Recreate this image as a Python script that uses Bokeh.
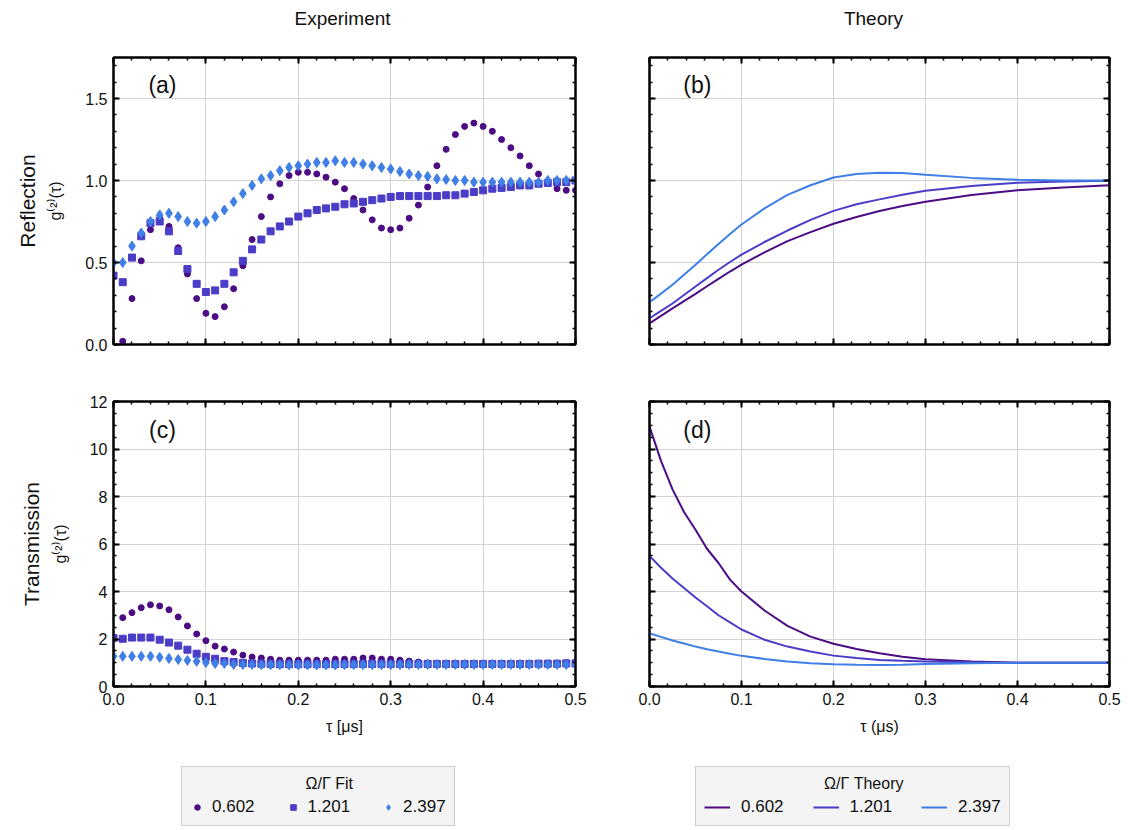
import numpy as np
from bokeh.plotting import figure
from bokeh.layouts import column, row
from bokeh.models import (LinearAxis, SingleIntervalTicker, NumeralTickFormatter,
                          Label, Legend, LegendItem, Range1d, Title,
                          CustomLabelingPolicy)
from bokeh.embed import file_html
from bokeh.resources import INLINE

nan = float("nan")

# ---------------- data ----------------
tau_exp = [0.00, 0.01, 0.02, 0.03, 0.04, 0.05, 0.06, 0.07, 0.08, 0.09,
           0.10, 0.11, 0.12, 0.13, 0.14, 0.15, 0.16, 0.17, 0.18, 0.19,
           0.20, 0.21, 0.22, 0.23, 0.24, 0.25, 0.26, 0.27, 0.28, 0.29,
           0.30, 0.31, 0.32, 0.33, 0.34, 0.35, 0.36, 0.37, 0.38, 0.39,
           0.40, 0.41, 0.42, 0.43, 0.44, 0.45, 0.46, 0.47, 0.48, 0.49, 0.50]

refl_0602 = [nan, 0.02, 0.28, 0.51, 0.70, 0.77, 0.72, 0.59, 0.43, 0.28,
             0.19, 0.17, 0.23, 0.34, 0.48, 0.64, 0.78, 0.90, 0.98, 1.03,
             1.05, 1.05, 1.04, 1.02, 0.99, 0.95, 0.89, 0.82, 0.76, 0.71,
             0.70, 0.71, 0.77, 0.85, 0.96, 1.09, 1.19, 1.28, 1.33, 1.35,
             1.33, 1.30, 1.25, 1.20, 1.15, 1.09, 1.04, 0.99, 0.95, 0.94, 0.94]
refl_1201 = [0.42, 0.38, 0.53, 0.66, 0.74, 0.75, 0.69, 0.57, 0.46, 0.37,
             0.32, 0.33, 0.37, 0.44, 0.51, 0.58, 0.64, 0.69, 0.72, 0.75,
             0.78, 0.80, 0.82, 0.83, 0.84, 0.855, 0.86, 0.87, 0.88, 0.89,
             0.90, 0.905, 0.905, 0.905, 0.905, 0.905, 0.91, 0.91, 0.92, 0.93,
             0.94, 0.95, 0.955, 0.96, 0.97, 0.97, 0.98, 0.985, 0.99, 0.99, 1.00]
refl_2397 = [0.50, 0.50, 0.60, 0.68, 0.75, 0.79, 0.80, 0.78, 0.75, 0.74,
             0.75, 0.78, 0.82, 0.87, 0.92, 0.97, 1.01, 1.03, 1.06, 1.08,
             1.09, 1.10, 1.11, 1.11, 1.12, 1.11, 1.11, 1.10, 1.09, 1.08,
             1.07, 1.055, 1.04, 1.03, 1.025, 1.01, 1.006, 1.00, 1.00, 0.99,
             0.99, 0.99, 0.99, 0.99, 0.99, 0.99, 0.99, 1.00, 1.00, 1.00, 1.00]

trans_0602 = [nan, 2.90, 3.11, 3.32, 3.44, 3.39, 3.23, 2.93, 2.55, 2.21,
              1.93, 1.70, 1.58, 1.45, 1.32, 1.24, 1.20, 1.15, 1.11, 1.11,
              1.11, 1.11, 1.11, 1.11, 1.15, 1.15, 1.15, 1.20, 1.20, 1.15,
              1.15, 1.11, 1.07, 1.03, 0.99, 0.97, 0.96, 0.95, 0.95, 0.95,
              0.95, 0.95, 0.95, 0.95, 0.95, 0.96, 0.97, 0.98, 0.99, 1.01, 1.03]
trans_1201 = [2.04, 2.01, 2.06, 2.06, 2.06, 1.97, 1.85, 1.72, 1.55, 1.38,
              1.25, 1.17, 1.07, 1.03, 0.99, 0.97, 0.96, 0.95, 0.94, 0.94,
              0.94, 0.94, 0.94, 0.94, 0.94, 0.95, 0.95, 0.95, 0.95, 0.95,
              0.95, 0.95, 0.95, 0.95, 0.95, 0.95, 0.95, 0.95, 0.95, 0.95,
              0.95, 0.95, 0.95, 0.95, 0.95, 0.95, 0.96, 0.96, 0.96, 0.97, 0.97]
trans_2397 = [1.27, 1.27, 1.27, 1.27, 1.27, 1.23, 1.18, 1.14, 1.10, 1.06,
              1.01, 0.97, 0.97, 0.93, 0.93, 0.93, 0.92, 0.92, 0.92, 0.91,
              0.91, 0.91, 0.91, 0.91, 0.91, 0.92, 0.92, 0.92, 0.92, 0.92,
              0.92, 0.92, 0.93, 0.93, 0.93, 0.93, 0.93, 0.93, 0.93, 0.93,
              0.93, 0.93, 0.93, 0.93, 0.93, 0.93, 0.93, 0.93, 0.93, 0.93, 0.93]

tau_th = [0.0, 0.0125, 0.025, 0.0375, 0.05, 0.0625, 0.075, 0.0875, 0.1,
          0.125, 0.15, 0.175, 0.2, 0.225, 0.25, 0.275, 0.3, 0.35, 0.4, 0.45, 0.5]
th_refl_0602 = [0.129, 0.175, 0.22, 0.265, 0.309, 0.355, 0.40, 0.445, 0.487,
                0.562, 0.63, 0.685, 0.736, 0.777, 0.814, 0.845, 0.871, 0.912, 0.941, 0.957, 0.971]
th_refl_1201 = [0.16, 0.205, 0.25, 0.302, 0.354, 0.405, 0.456, 0.503, 0.548,
                0.625, 0.695, 0.76, 0.815, 0.855, 0.885, 0.913, 0.937, 0.967, 0.986, 0.994, 0.998]
th_refl_2397 = [0.258, 0.31, 0.364, 0.425, 0.487, 0.55, 0.613, 0.674, 0.732,
                0.83, 0.912, 0.971, 1.018, 1.039, 1.047, 1.045, 1.035, 1.016, 1.004, 1.0, 1.0]
th_trans_0602 = [10.94, 9.5, 8.3, 7.35, 6.6, 5.8, 5.2, 4.5, 4.0,
                 3.2, 2.55, 2.1, 1.8, 1.58, 1.4, 1.25, 1.15, 1.05, 1.0, 1.0, 1.0]
th_trans_1201 = [5.5, 5.0, 4.55, 4.15, 3.75, 3.38, 3.0, 2.7, 2.4,
                 1.97, 1.68, 1.47, 1.30, 1.2, 1.12, 1.08, 1.05, 1.02, 1.0, 1.0, 1.0]
th_trans_2397 = [2.24, 2.09, 1.94, 1.81, 1.68, 1.57, 1.47, 1.38, 1.29,
                 1.16, 1.05, 0.98, 0.94, 0.92, 0.91, 0.92, 0.95, 0.98, 1.0, 1.0, 1.0]

series_labels = ["0.602", "1.201", "2.397"]
column_titles = ["Experiment", "Theory"]

for s in (refl_0602, refl_1201, refl_2397, trans_0602, trans_1201, trans_2397):
    assert len(s) == len(tau_exp)
for s in (th_refl_0602, th_refl_1201, th_refl_2397, th_trans_0602, th_trans_1201, th_trans_2397):
    assert len(s) == len(tau_th)

# ---------------- style ----------------
FONT = "Liberation Sans"
TXT = "#111111"
COLORS = ["#4b0c84", "#4a3dc8", "#3f7fe6"]
MARKERS = ["circle", "square", "diamond"]
MSIZES = [6, 7, 10]
NBSP = "\u00a0"


def hide_labels(ax):
    ax.major_label_policy = CustomLabelingPolicy(
        code="for (const i of Array.from(indices)) { indices.unset(i) }\nreturn indices")
    ax.major_label_text_font_size = "1px"
    ax.major_label_standoff = 0


def make_fig(w, h, left, right, top, bottom, ymax, yint, yminor, yfmt,
             show_x, show_y):
    p = figure(width=w, height=h, x_range=Range1d(0, 0.5), y_range=Range1d(0, ymax),
               output_backend="svg", toolbar_location=None,
               min_border_left=left, min_border_right=right,
               min_border_top=top, min_border_bottom=bottom)
    xt = SingleIntervalTicker(interval=0.1, num_minor_ticks=5)
    yt = SingleIntervalTicker(interval=yint, num_minor_ticks=yminor)
    p.below[0].ticker = xt
    p.left[0].ticker = yt
    p.below[0].formatter = NumeralTickFormatter(format="0.0")
    p.left[0].formatter = NumeralTickFormatter(format=yfmt)
    p.add_layout(LinearAxis(ticker=xt), "above")
    p.add_layout(LinearAxis(ticker=yt), "right")
    for ax in p.axis:
        ax.axis_line_width = 2
        ax.axis_line_color = "black"
        ax.major_tick_in = 6
        ax.major_tick_out = 0
        ax.minor_tick_in = 3
        ax.minor_tick_out = 0
        ax.major_tick_line_width = 2
        ax.minor_tick_line_width = 1.5
        ax.major_label_text_font = FONT
        ax.major_label_text_font_size = "16px"
        ax.major_label_text_color = TXT
        ax.major_label_standoff = 6
    hide_labels(p.above[0])
    hide_labels(p.right[0])
    if not show_x:
        hide_labels(p.below[0])
    if not show_y:
        hide_labels(p.left[0])
    p.xgrid.ticker = xt
    p.ygrid.ticker = yt
    p.xgrid.grid_line_color = "#d2d2d2"
    p.ygrid.grid_line_color = "#d2d2d2"
    p.outline_line_color = "black"
    p.outline_line_width = 2
    p.background_fill_color = "white"
    p.border_fill_color = "white"
    return p


def add_letter(p, x, y, text):
    p.add_layout(Label(x=x, y=y, text=text, text_font=FONT, text_font_size="23px",
                       text_align="center", text_baseline="middle", text_color=TXT))


def add_title(p, text, side, size, standoff):
    p.add_layout(Title(text=text, align="center", text_font=FONT, text_font_size=size,
                       text_font_style="normal", text_color=TXT, standoff=standoff), side)


def style_ylabel(p, text):
    ax = p.left[0]
    ax.axis_label = text
    ax.axis_label_text_font = FONT
    ax.axis_label_text_font_size = "16px"
    ax.axis_label_text_font_style = "normal"
    ax.axis_label_text_color = TXT
    ax.axis_label_standoff = 18


def blank_strip(w, h, xr, yr):
    f = figure(width=w, height=h, x_range=Range1d(*xr), y_range=Range1d(*yr),
               output_backend="svg", toolbar_location=None,
               x_axis_location=None, y_axis_location=None,
               min_border_left=0, min_border_right=0, min_border_top=0, min_border_bottom=0)
    f.grid.visible = False
    f.outline_line_color = None
    f.background_fill_color = "white"
    f.border_fill_color = "white"
    return f


# header strip: 0..40, row 1: 40..372, row 2: 372..760, legend strip: 760..830
fh = blank_strip(1128, 40, (0, 1128), (0, 40))
for xc, t in zip((342, 873), column_titles):
    fh.add_layout(Label(x=xc, y=22, text=t, text_font=FONT, text_font_size="19px",
                        text_align="center", text_baseline="middle", text_color=TXT))

fa = make_fig(600, 332, 113, 25, 17, 28, 1.75, 0.5, 5, "0.0", False, True)
fb = make_fig(528, 332, 49, 19, 17, 28, 1.75, 0.5, 5, "0.0", False, False)
fc = make_fig(600, 388, 113, 25, 29, 74, 12, 2, 4, "0", True, True)
fd = make_fig(528, 388, 49, 19, 29, 74, 12, 2, 4, "0", True, False)

# experiment panels
for ys, m, s, c in zip((refl_0602, refl_1201, refl_2397), MARKERS, MSIZES, COLORS):
    fa.scatter(np.array(tau_exp), np.array(ys, dtype=float), marker=m, size=s,
               fill_color=c, line_color=c)
for ys, m, s, c in zip((trans_0602, trans_1201, trans_2397), MARKERS, MSIZES, COLORS):
    fc.scatter(np.array(tau_exp), np.array(ys, dtype=float), marker=m, size=s,
               fill_color=c, line_color=c)

# theory panels
for ys, c in zip((th_refl_0602, th_refl_1201, th_refl_2397), COLORS):
    fb.line(tau_th, ys, line_width=2, line_color=c)
for ys, c in zip((th_trans_0602, th_trans_1201, th_trans_2397), COLORS):
    fd.line(tau_th, ys, line_width=2, line_color=c)

# x axis titles
for p, lab in ((fc, "τ [μs]"), (fd, "τ (μs)")):
    ax = p.below[0]
    ax.axis_label = lab
    ax.axis_label_text_font = FONT
    ax.axis_label_text_font_size = "16px"
    ax.axis_label_text_font_style = "normal"
    ax.axis_label_text_color = TXT
    ax.axis_label_standoff = 10

# y axis titles
style_ylabel(fa, "g⁽²⁾(τ)")
style_ylabel(fc, "g⁽²⁾(τ)")

# panel letters
add_letter(fa, 0.053, 1.58, "(a)")
add_letter(fb, 0.052, 1.58, "(b)")
add_letter(fc, 0.053, 10.8, "(c)")
add_letter(fd, 0.052, 10.8, "(d)")

# row titles
add_title(fa, "Reflection", "left", "21px", 12)
add_title(fc, "Transmission", "left", "21px", 12)

# ---------------- legend strip ----------------
fl = blank_strip(1128, 70, (2, 3), (2, 3))

fit_r, th_r = [], []
for ys, m, s, c in zip((refl_0602, refl_1201, refl_2397), MARKERS, [5, 6, 8], COLORS):
    fit_r.append(fl.scatter(np.array(tau_exp), np.array(ys, dtype=float), marker=m, size=s,
                            fill_color=c, line_color=c))
for ys, c in zip((th_refl_0602, th_refl_1201, th_refl_2397), COLORS):
    th_r.append(fl.line(tau_th, ys, line_width=2, line_color=c))


def make_legend(p, rends, title, npad, loc, glyph_w, standoff, spacing):
    lg = Legend(items=[LegendItem(label=l, renderers=[r]) for l, r in zip(series_labels, rends)],
                orientation="horizontal", location=loc, title=NBSP * npad + title,
                title_text_font=FONT, title_text_font_size="16px",
                title_text_font_style="normal",
                title_text_color=TXT, title_standoff=4,
                label_text_font=FONT, label_text_font_size="17px",
                label_text_color=TXT,
                background_fill_color="#f4f4f4", background_fill_alpha=1.0,
                border_line_color="#aaaaaa", border_line_width=1.5,
                glyph_width=glyph_w, glyph_height=16, label_standoff=standoff,
                spacing=spacing, padding=8, margin=0)
    p.add_layout(lg)


make_legend(fl, fit_r, "Ω/Γ Fit", 26, (181, 4), 14, 8, 31)
make_legend(fl, th_r, "Ω/Γ Theory", 27, (695, 4), 26, 11, 29)

layout = column(fh, row(fa, fb), row(fc, fd), fl)
open("out.html", "w").write(file_html(layout, INLINE))
